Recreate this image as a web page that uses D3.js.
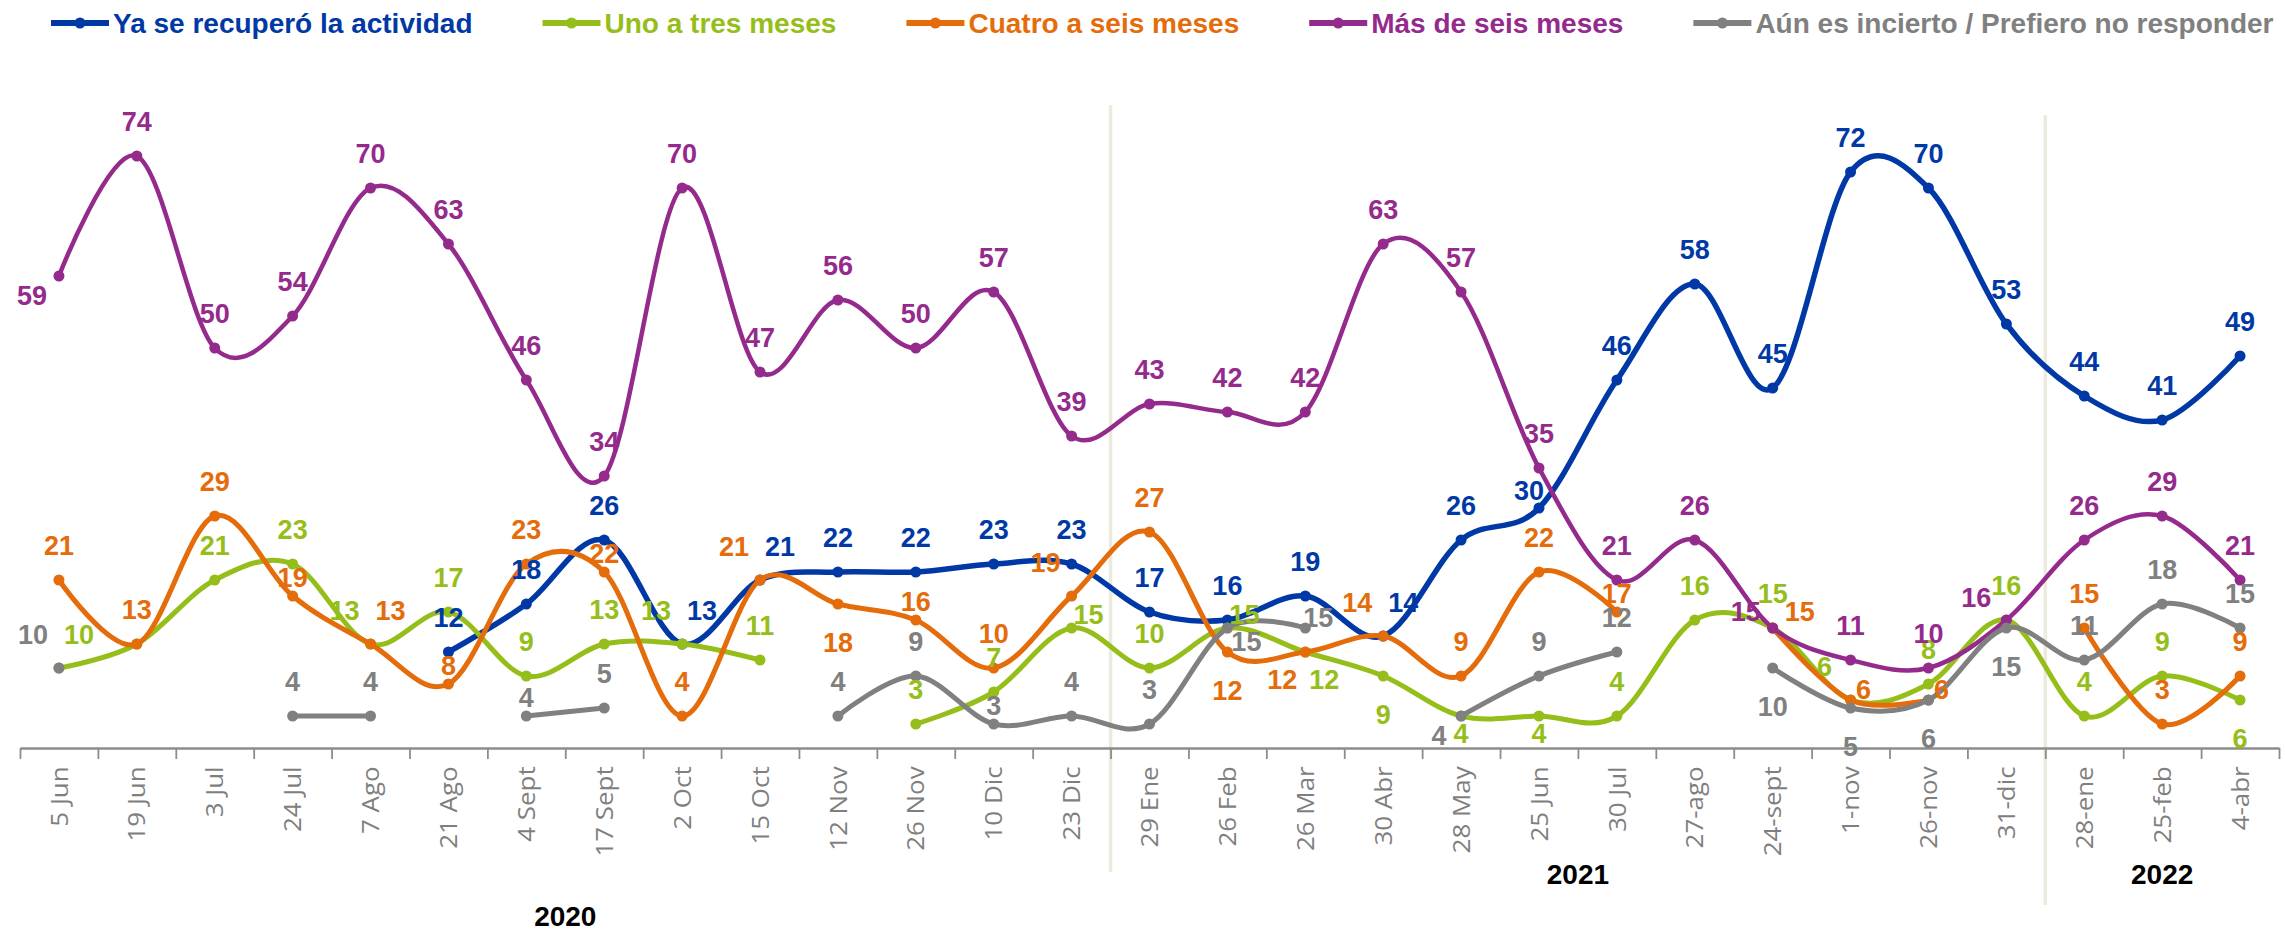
<!DOCTYPE html>
<html><head><meta charset="utf-8">
<script src="https://cdn.jsdelivr.net/npm/d3@7"></script>
<style>
html,body{margin:0;padding:0;background:#fff;}
svg{display:block;}
</style></head><body>
<svg id="chart" width="2285" height="934"></svg>
<script>
const categories = ["5 Jun","19 Jun","3 Jul","24 Jul","7 Ago","21 Ago","4 Sept","17 Sept","2 Oct","15 Oct","12 Nov","26 Nov","10 Dic","23 Dic","29 Ene","26 Feb","26 Mar","30 Abr","28 May","25 Jun","30 Jul","27-ago","24-sept","1-nov","26-nov","31-dic","28-ene","25-feb","4-abr"];

const yaSeRecupero = [null,null,null,null,null,12,18,26,13,21,22,22,23,23,17,16,19,14,26,30,46,58,45,72,70,53,44,41,49];
const unoATres     = [10,13,21,23,13,17,9,13,13,11,null,3,7,15,10,15,12,9,4,4,4,16,15,6,8,16,4,9,6];
const cuatroASeis  = [21,13,29,19,13,8,23,22,4,21,18,16,10,19,27,12,12,14,9,22,17,null,15,6,6,null,15,3,9];
const masDeSeis    = [59,74,50,54,70,63,46,34,70,47,56,50,57,39,43,42,42,63,57,35,21,26,15,11,10,16,26,29,21];
const incierto     = [10,null,null,4,4,null,4,5,null,null,4,9,3,4,3,15,15,null,4,9,12,null,10,5,6,15,11,18,15];

const seriesNames = ["Ya se recuperó la actividad","Uno a tres meses","Cuatro a seis meses","Más de seis meses","Aún es incierto / Prefiero no responder"];

const yearLabels = ["2020","2021","2022"];
const yearAnchors = ["17 Sept","30 Jul","25-feb"];
const separatorBefore = ["29 Ene","28-ene"];

// label placement codes
const yaPos     = [null,null,null,null,null,'a','a','a','ar','ar','a','a','a','a','a','a','a','ar','a','Al','a','a','a','a','a','a','a','a','a'];
const unoPos    = ['ar',null,'a','a','al','a','a','a','al','a',null,'a','a','R','a','R','br','b','B','B','a','a','a','al','a','a','a','a','b'];
const cuatroPos = ['a','a','a','A','ar','A','a','A','a','al','b','A','a','al','a','b','bl','al','a','a','A',null,'Ro','r','r',null,'a','a','a'];
const masPos    = ['L','a','a','a','a','a','a','a','a','a','a','a','a','a','a','a','a','a','a','a','a','a','Lo','a','a','al2','a','a','a'];
const incPos    = ['al',null,null,'a','a',null,'A','a',null,null,'a','a','A','a','a','br2','r',null,'Bl','a','a',null,'b','b','b','b','a','a','a'];

const offsets = {
  a:[0,-34], A:[0,-18], Al:[-10,-17], b:[0,39], B:[0,18], Bl:[-22,20],
  al:[-26,-33], al2:[-30,-22], ar:[20,-33], L:[-27,20], R:[17,-13], r:[13,-10],
  Lo:[-27,-16], Ro:[27,-16],
  bl:[-23,28], br:[19,28], br2:[19,14]
};

const colors = ["#0039A6","#96BE1A","#E46C0A","#952A8D","#808080"];
const widths = [5.5,5,5,4.5,5];

const series = [
  {name:seriesNames[0], values:yaSeRecupero, pos:yaPos, color:colors[0], w:widths[0]},
  {name:seriesNames[1], values:unoATres, pos:unoPos, color:colors[1], w:widths[1]},
  {name:seriesNames[2], values:cuatroASeis, pos:cuatroPos, color:colors[2], w:widths[2]},
  {name:seriesNames[3], values:masDeSeis, pos:masPos, color:colors[3], w:widths[3]},
  {name:seriesNames[4], values:incierto, pos:incPos, color:colors[4], w:widths[4]}
];

const svg = d3.select('#chart');
const x = d3.scaleBand().domain(categories).range([20,2279]).padding(0);
const y = d3.scaleLinear().domain([0,85]).range([748,68]);
const cx = c => x(c) + x.bandwidth()/2;

// separators
svg.append('g').selectAll('line').data(separatorBefore).join('line')
  .attr('x1', d=>x(d)).attr('x2', d=>x(d))
  .attr('y1', (d,i)=> i===0 ? 105 : 115)
  .attr('y2', (d,i)=> i===0 ? 872 : 905)
  .attr('stroke','#ECE9DD').attr('stroke-width',3.5);

// boundary ticks + domain
const bscale = d3.scaleLinear().domain([0,categories.length]).range([20,2279]);
const tickAxis = d3.axisBottom(bscale).tickValues(d3.range(0,categories.length+1)).tickFormat('').tickSize(11).tickSizeOuter(0);
const gT = svg.append('g').attr('transform','translate(0,748)').call(tickAxis);
gT.select('.domain').attr('stroke','#8c8c8c').attr('stroke-width',2.5);
gT.selectAll('.tick line').attr('stroke','#8c8c8c').attr('stroke-width',1.8);

// category labels
const labAxis = d3.axisBottom(x).tickSize(0);
const gL = svg.append('g').attr('transform','translate(0,748)').call(labAxis);
gL.select('.domain').remove();
gL.selectAll('.tick text')
  .attr('transform','rotate(-90) scale(1.08,1)')
  .attr('x',-17).attr('y',0).attr('dy','0.36em')
  .style('text-anchor','end')
  .style('font-family','"Open Sans", "DejaVu Sans", sans-serif')
  .style('font-size','24px')
  .attr('fill','#7f7f7f');

// year labels
svg.append('g').selectAll('text').data(yearLabels).join('text')
  .attr('x',(d,i)=> i<2 ? x(yearAnchors[i]) : cx(yearAnchors[i]))
  .attr('y',(d,i)=> i===0 ? 926 : 884)
  .attr('text-anchor','middle')
  .style('font-family','"Liberation Sans", Arial, sans-serif')
  .style('font-weight','bold').style('font-size','28px')
  .attr('fill','#000').text(d=>d);

// lines
const line = d3.line()
  .defined(d=>d.v!=null)
  .x(d=>cx(d.c)).y(d=>y(d.v))
  .curve(d3.curveCardinal.tension(0));

const gS = svg.append('g');
series.forEach(s=>{
  const pts = categories.map((c,i)=>({c, v:s.values[i], p:s.pos[i]}));
  const g = gS.append('g');
  g.append('path').datum(pts).attr('d',line)
    .attr('fill','none').attr('stroke',s.color).attr('stroke-width',s.w)
    .attr('stroke-linejoin','round').attr('stroke-linecap','round');
  g.selectAll('circle').data(pts.filter(d=>d.v!=null)).join('circle')
    .attr('cx',d=>cx(d.c)).attr('cy',d=>y(d.v)).attr('r',5.5).attr('fill',s.color);
});

// data labels
const gLab = svg.append('g');
series.forEach(s=>{
  const pts = categories.map((c,i)=>({c, v:s.values[i], p:s.pos[i]})).filter(d=>d.v!=null && d.p);
  gLab.append('g').selectAll('text').data(pts).join('text')
    .attr('x',d=>cx(d.c)+offsets[d.p][0])
    .attr('y',d=>y(d.v)+offsets[d.p][1])
    .attr('text-anchor','middle').attr('dominant-baseline','central')
    .style('font-family','"Liberation Sans", Arial, sans-serif')
    .style('font-weight','bold').style('font-size','27px')
    .attr('fill',s.color).text(d=>d.v);
});

// legend
const gLeg = svg.append('g');
let lx = 51;
const ly = 23;
series.forEach(s=>{
  const g = gLeg.append('g');
  g.append('line').attr('x1',lx).attr('x2',lx+58).attr('y1',ly).attr('y2',ly)
    .attr('stroke',s.color).attr('stroke-width',6);
  g.append('circle').attr('cx',lx+29).attr('cy',ly).attr('r',5.5).attr('fill',s.color);
  const t = g.append('text').attr('x',lx+62).attr('y',ly).attr('dominant-baseline','central')
    .style('font-family','"Liberation Sans", Arial, sans-serif')
    .style('font-weight','bold').style('font-size','28px')
    .attr('fill',s.color).text(s.name);
  const w = t.node().getComputedTextLength();
  lx = lx + 62 + w + 70;
});
</script>
</body></html>
